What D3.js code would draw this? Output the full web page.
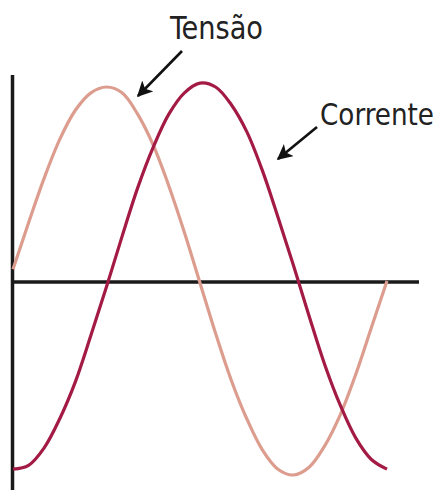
<!DOCTYPE html>
<html><head><meta charset="utf-8">
<script src="https://cdn.jsdelivr.net/npm/d3@7"></script>
<style>html,body{margin:0;padding:0;background:#fff;}</style>
</head><body>
<svg id="c" width="444" height="494"></svg>
<script>
// phase angle (degrees)
const angles = [0,15,30,45,60,75,90,105,120,135,150,165,180,195,210,225,240,255,270,285,300,315,330,345,360];
// Tensão (normalized)
const tensao = [0.06,0.30,0.53,0.73,0.88,0.97,1.0,0.97,0.86,0.70,0.49,0.25,-0.01,-0.27,-0.51,-0.71,-0.87,-0.97,-1.0,-0.96,-0.85,-0.69,-0.48,-0.24,0.0];
// Corrente (normalized)
const corrente = [-0.97,-0.95,-0.86,-0.71,-0.52,-0.28,-0.03,0.23,0.48,0.69,0.86,0.97,1.02,1.0,0.91,0.77,0.57,0.33,0.08,-0.18,-0.43,-0.64,-0.81,-0.92,-0.97];
const labels = ["Tensão","Corrente"];

const svg = d3.select("#c");
const x = d3.scaleLinear().domain([0,360]).range([13,387]);
const y = d3.scaleLinear().domain([-1,1]).range([475,87]);

const line = d3.line().x((d,i)=>x(angles[i])).y(d=>y(d)).curve(d3.curveCatmullRom);

// axes
svg.append("line").attr("x1",12.5).attr("x2",12.5).attr("y1",75).attr("y2",490)
  .attr("stroke","#1a1a1a").attr("stroke-width",3.5);
svg.append("line").attr("x1",11).attr("x2",419).attr("y1",y(0)+1).attr("y2",y(0)+1)
  .attr("stroke","#1a1a1a").attr("stroke-width",3.5);

svg.append("path").datum(tensao).attr("d",line).attr("fill","none")
  .attr("stroke","#dc9d8f").attr("stroke-width",3.2);
svg.append("path").datum(corrente).attr("d",line).attr("fill","none")
  .attr("stroke","#a31a44").attr("stroke-width",3.2);

// arrows
const defs = svg.append("defs");
defs.append("marker").attr("id","ah").attr("viewBox","0 0 10 10").attr("refX",9).attr("refY",5)
  .attr("markerWidth",6).attr("markerHeight",6).attr("markerUnits","strokeWidth").attr("orient","auto")
  .append("path").attr("d","M0,0 L10,5 L0,10 L2.5,5 Z").attr("fill","#111");

svg.append("line").attr("x1",182).attr("y1",51).attr("x2",138).attr("y2",96)
  .attr("stroke","#111").attr("stroke-width",2.6).attr("marker-end","url(#ah)");
svg.append("line").attr("x1",317).attr("y1",127).attr("x2",278).attr("y2",159)
  .attr("stroke","#111").attr("stroke-width",2.6).attr("marker-end","url(#ah)");

const tf = "'Liberation Sans Narrow','DejaVu Sans Condensed','Open Sans',sans-serif";
svg.append("text").attr("x",170).attr("y",39).text(labels[0])
  .attr("font-family",tf).attr("font-size",32).attr("fill","#222")
  .attr("textLength",93).attr("lengthAdjust","spacingAndGlyphs");
svg.append("text").attr("x",320).attr("y",125).text(labels[1])
  .attr("font-family",tf).attr("font-size",31).attr("fill","#222")
  .attr("textLength",114).attr("lengthAdjust","spacingAndGlyphs");
</script>
</body></html>
